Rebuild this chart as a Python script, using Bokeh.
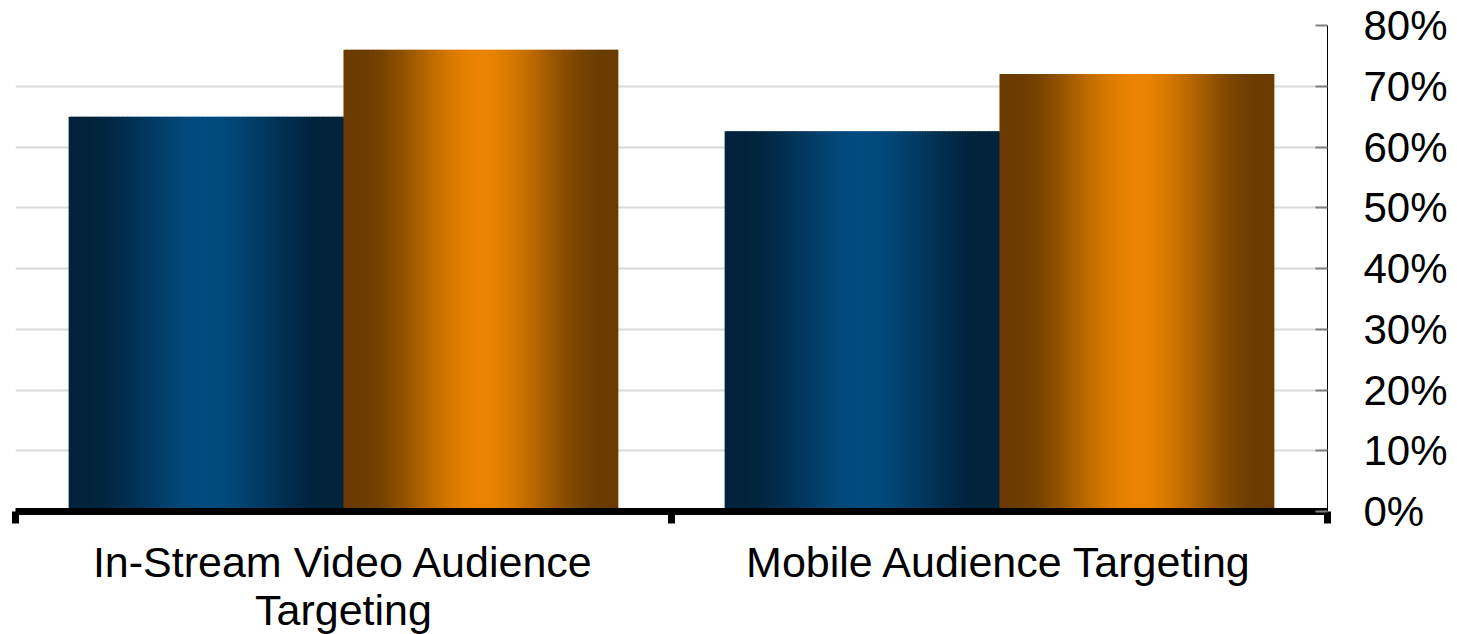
import numpy as np
from bokeh.plotting import figure
from bokeh.models import (Range1d, LinearAxis, FixedTicker, PrintfTickFormatter,
                          ColumnDataSource)
from bokeh.embed import file_html
from bokeh.resources import INLINE

# ---- data ----
categories = ["In-Stream Video Audience\nTargeting", "Mobile Audience Targeting"]
series_blue = [65.0, 62.6]
series_orange = [76.0, 72.0]
y_ticks = [0, 10, 20, 30, 40, 50, 60, 70, 80]

FONT = "Liberation Sans"
BAR_W = 0.419

blue_dark = np.array([2, 35, 59])
blue_peak = np.array([2, 75, 127])
orange_dark = np.array([107, 60, 0])
orange_peak = np.array([234, 131, 0])


def shade(t, dark, peak):
    s = 1.0 - np.abs(t - 0.5) / 0.45
    s = np.clip(s, 0, 1)
    s = s * s * (3 - 2 * s)
    c = dark + (peak - dark) * s
    return "#%02x%02x%02x" % tuple(int(round(v)) for v in c)


p = figure(frame_width=1312, frame_height=486, output_backend="svg", toolbar_location=None,
           x_range=Range1d(0, 2), y_range=Range1d(0, 80),
           x_axis_location=None, y_axis_location=None,
           min_border_left=15, min_border_right=130, min_border_top=25,
           min_border_bottom=123)
p.outline_line_color = None
p.background_fill_color = "white"
p.xgrid.visible = False
p.ygrid.ticker = FixedTicker(ticks=y_ticks)
p.ygrid.grid_line_color = "#d9d9d9"
p.ygrid.grid_line_width = 2

# gradient bars built from thin slices
N = 110
xs_l, xs_r, tops, cols = [], [], [], []
for i, _ in enumerate(categories):
    center = i + 0.5
    for j, (start, val, dark, peak) in enumerate(
            [(center - BAR_W, series_blue[i], blue_dark, blue_peak),
             (center, series_orange[i], orange_dark, orange_peak)]):
        dx = BAR_W / N
        right_lim = start + BAR_W + (dx if j == 0 else 0)
        for k in range(N):
            t = (k + 0.5) / N
            l = start + k * dx
            r = min(start + (k + 1.6) * dx, right_lim)
            xs_l.append(l)
            xs_r.append(r)
            tops.append(val)
            cols.append(shade(t, dark, peak))

src = ColumnDataSource(dict(left=xs_l, right=xs_r, top=tops, bottom=[0] * len(tops), color=cols))
p.quad(left="left", right="right", top="top", bottom="bottom", source=src,
       fill_color="color", line_color=None)

# right y axis
yax = LinearAxis(ticker=FixedTicker(ticks=y_ticks),
                 formatter=PrintfTickFormatter(format="%d%%"))
yax.axis_line_color = "black"
yax.axis_line_width = 1
yax.major_tick_in = 12
yax.major_tick_out = 0
yax.major_tick_line_color = "#808080"
yax.major_tick_line_width = 2
yax.minor_tick_line_color = None
yax.major_label_standoff = 36
yax.major_label_text_font = FONT
yax.major_label_text_font_size = "42px"
yax.major_label_text_color = "black"
p.add_layout(yax, "right")

# bottom x axis
xax = LinearAxis(ticker=FixedTicker(ticks=[0.5, 1.5], minor_ticks=[0, 1, 2]))
xax.major_label_overrides = {0.5: categories[0], 1.5: categories[1]}
xax.axis_line_color = "black"
xax.axis_line_width = 7
xax.major_tick_line_color = None
xax.major_tick_in = 0
xax.major_tick_out = 0
xax.minor_tick_in = 0
xax.minor_tick_out = 12
xax.minor_tick_line_color = "black"
xax.minor_tick_line_width = 7
xax.major_label_standoff = 14
xax.major_label_text_font = FONT
xax.major_label_text_font_size = "43px"
xax.major_label_text_color = "black"
xax.major_label_text_line_height = 1.0
p.add_layout(xax, "below")

open("out.html", "w").write(file_html(p, INLINE))
